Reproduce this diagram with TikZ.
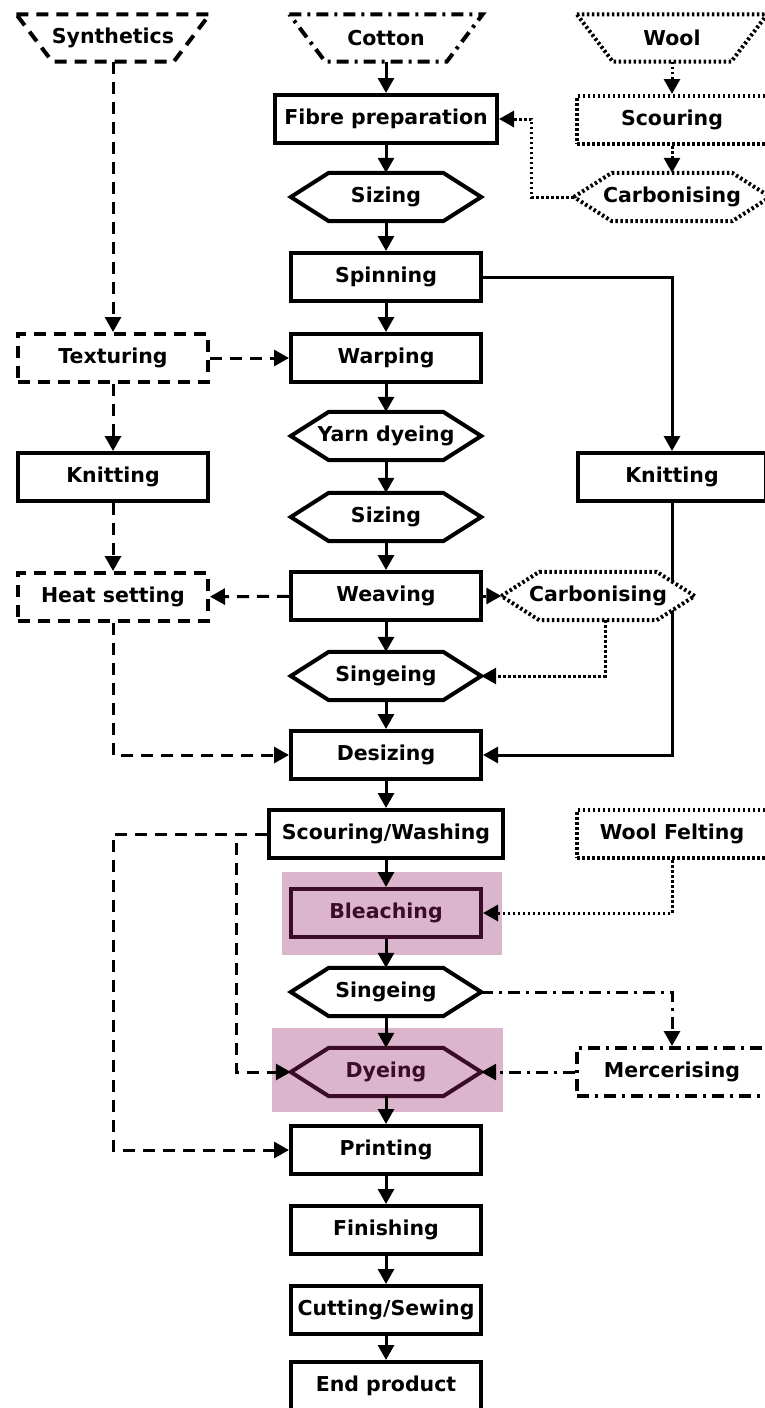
\documentclass[tikz,border=0pt]{standalone}
\usepackage{fontspec}
\setmainfont{DejaVu Sans}
\usetikzlibrary{arrows.meta,backgrounds}
\definecolor{hilite}{RGB}{219,181,204}
\definecolor{plum}{RGB}{58,12,40}
\tikzset{
  txt/.style={inner sep=0pt, minimum width=190pt, minimum height=48pt, font=\fontsize{20.5}{24}\selectfont\bfseries},
  proc/.style={txt, draw, line width=4pt, fill=white},
  edge/.style={line width=4pt, fill=white},
  dsh/.style={dash pattern=on 12pt off 8pt},
  dts/.style={dash pattern=on 2.5pt off 2.5pt},
  dashdot/.style={dash pattern=on 12pt off 6pt on 3pt off 6pt},
  link/.style={line width=3pt, -{Triangle[length=15pt,width=16pt]}},
  marked/.style={fill=hilite, draw=plum, text=plum}
}
\begin{document}
\begin{tikzpicture}[x=1pt, y=-1pt]
\useasboundingbox (0,0) rectangle (765,1408);

\node[txt,minimum width=193pt,minimum height=47pt] (syn) at (113,38) {Synthetics};
\node[txt,minimum width=193pt,minimum height=47pt] (cot) at (386,38) {Cotton};
\node[txt,minimum width=190pt,minimum height=47pt] (wool) at (672,38) {Wool};
\node[proc,minimum width=222pt] (fibre) at (386,119) {Fibre preparation};
\node[proc,dts] (scour) at (672,120) {Scouring};
\node[txt] (size1) at (386,197) {Sizing};
\node[txt,minimum width=196pt] (carb1) at (672,197) {Carbonising};
\node[proc] (spin) at (386,277) {Spinning};
\node[proc,dsh] (tex) at (113,358) {Texturing};
\node[proc] (warp) at (386,358) {Warping};
\node[txt] (ydye) at (386,436) {Yarn dyeing};
\node[proc] (knitl) at (113,477) {Knitting};
\node[proc,minimum width=188pt] (knitr) at (672,477) {Knitting};
\node[txt] (size2) at (386,517) {Sizing};
\node[proc,dsh] (heat) at (113,597) {Heat setting};
\node[proc] (weave) at (386,596) {Weaving};
\node[txt,minimum width=193pt] (carb2) at (598,596) {Carbonising};
\node[txt] (singe1) at (386,676) {Singeing};
\node[proc] (desize) at (386,755) {Desizing};
\node[proc,minimum width=234pt] (scwash) at (386,834) {Scouring/Washing};
\node[proc,dts] (felt) at (672,834) {Wool Felting};
\node[proc,marked] (bleach) at (386,913) {Bleaching};
\node[txt] (singe2) at (386,992) {Singeing};
\node[txt,text=plum] (dye) at (386,1072) {Dyeing};
\node[proc,dashdot] (merc) at (672,1072) {Mercerising};
\node[proc] (print) at (386,1150) {Printing};
\node[proc] (finish) at (386,1230) {Finishing};
\node[proc] (cutsew) at (386,1310) {Cutting/Sewing};
\node[proc] (endp) at (386,1386) {End product};

\begin{pgfonlayer}{background}
\fill[hilite] (282,872) rectangle (502,955);
\fill[hilite] (272,1028) rectangle (503,1112);
\draw[link] (knitr.south) |- (desize.east);
\foreach \n/\s in {syn/dsh,cot/dashdot,wool/dts}
  \draw[edge,\s] (\n.north west) -- (\n.north east) -- ([xshift=-36pt]\n.south east)
    -- ([xshift=36pt]\n.south west) -- cycle;
\foreach \n/\s in {size1/solid,ydye/solid,size2/solid,singe1/solid,singe2/solid,carb1/dts,carb2/dts,dye/marked}
  \draw[edge,\s] (\n.west) -- ([xshift=38pt]\n.north west) -- ([xshift=-38pt]\n.north east)
    -- (\n.east) -- ([xshift=-38pt]\n.south east) -- ([xshift=38pt]\n.south west) -- cycle;
\end{pgfonlayer}

\foreach \a/\b in {cot/fibre,fibre/size1,size1/spin,spin/warp,warp/ydye,ydye/size2,size2/weave,weave/singe1,singe1/desize,desize/scwash,scwash/bleach,bleach/singe2,singe2/dye,dye/print,print/finish,finish/cutsew,cutsew/endp}
  \draw[link] (\a) -- (\b);

\draw[link,dts] (wool) -- (scour);
\draw[link,dts] (scour) -- (carb1);
\draw[link,dts] (carb1.west) -- ++(-42,0) |- (fibre.east);
\draw[link] (spin.east) -| (knitr.north);
\draw[link,dsh] (syn) -- (tex);
\draw[link,dsh] (tex) -- (warp);
\draw[link,dsh] (tex) -- (knitl);
\draw[link,dsh] (knitl) -- (heat);
\draw[link,dsh] (weave) -- (heat);
\draw[link,dts] (weave) -- (carb2);
\draw[link,dts] ([xshift=7pt]carb2.south) |- (singe1.east);
\draw[link,dsh] (heat.south) |- (desize.west);
\draw[link,dsh] (scwash.west) -- (heat.south |- scwash.west) |- (print.west);
\draw[link,dsh] (scwash.west) -- ++(-31,0) |- (dye.west);
\draw[link,dts] (felt.south) |- (bleach.east);
\draw[link,dashdot] (singe2.east) -| (merc.north);
\draw[link,dashdot] (merc) -- (dye);
\end{tikzpicture}
\end{document}
